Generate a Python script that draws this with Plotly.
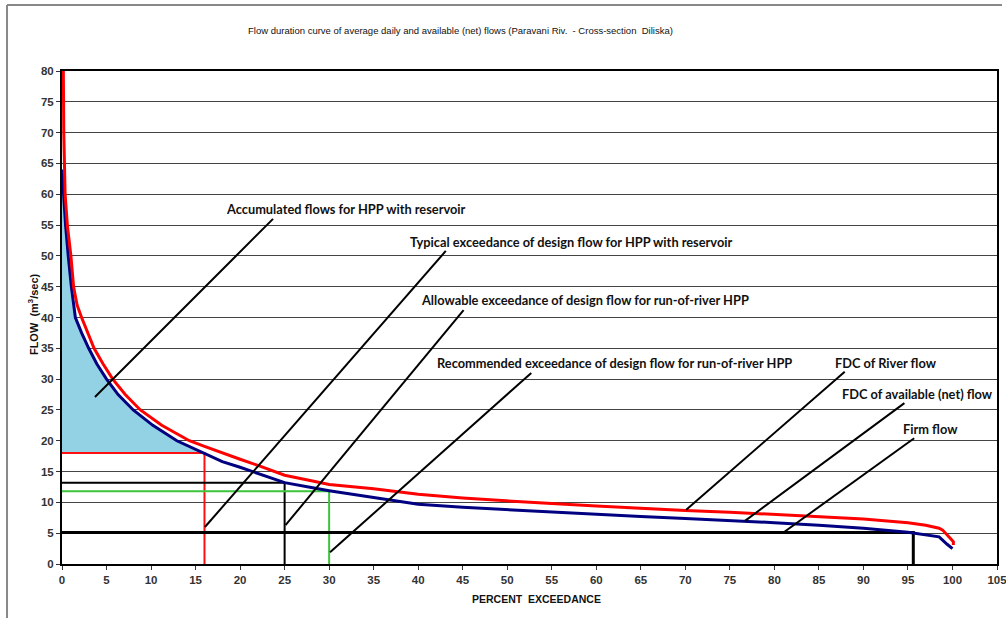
import plotly.graph_objects as go

# ---------------- data ----------------
river_x = [0.0, 0.15, 0.2, 0.3, 0.35, 0.6, 1.0, 1.3, 1.7, 2.2, 2.9, 3.6, 4.6, 5.7, 7.1, 8.8, 11.2, 14.3,
           16.0, 18.0, 20.0, 22.0, 25.0, 28.0, 30.0, 35.0, 40.0, 45.0, 50.0, 55.0, 60.0, 65.0, 70.0,
           75.0, 80.0, 85.0, 90.0, 95.0, 97.0, 98.5, 98.9, 99.85, 100.1, 100.1]
river_y = [85.0, 80.0, 70.0, 62.0, 60.0, 55.0, 50.0, 45.0, 42.0, 40.0, 37.5, 35.0, 32.5, 30.0, 27.5, 25.0, 22.5, 20.0,
           19.1, 18.0, 17.0, 16.0, 14.4, 13.5, 12.9, 12.2, 11.3, 10.7, 10.2, 9.8, 9.4, 9.0, 8.7,
           8.4, 8.05, 7.7, 7.3, 6.7, 6.3, 5.8, 5.5, 4.0, 3.6, 3.1]

net_x = [0.0, 0.15, 0.4, 0.7, 1.05, 1.5, 2.2, 3.0, 3.9, 5.0, 6.3, 8.0, 10.2, 12.9, 16.0, 18.0, 20.0,
         22.0, 25.0, 28.0, 30.0, 35.0, 40.0, 45.0, 50.0, 55.0, 60.0, 65.0, 70.0, 75.0, 80.0, 85.0,
         90.0, 95.0, 97.0, 98.5, 99.4, 100.0]
net_y = [64.0, 60.0, 55.0, 50.0, 45.0, 40.0, 37.5, 35.0, 32.5, 30.0, 27.5, 25.0, 22.5, 20.0, 18.0, 16.6, 15.7,
         14.7, 13.2, 12.4, 11.9, 10.8, 9.7, 9.2, 8.8, 8.4, 8.05, 7.7, 7.4, 7.1, 6.7, 6.3,
         5.8, 5.15, 4.7, 4.4, 3.2, 2.5]

# design flows: (exceedance %, flow m3/s)
reservoir_design = (16.0, 18.0)
allowable_design = (25.0, 13.2)
recommended_design = (30.0, 11.8)
firm_flow = (95.6, 5.1)

x_ticks = list(range(0, 106, 5))
y_ticks = list(range(0, 81, 5))

labels = [
    "Accumulated flows for HPP with reservoir",
    "Typical exceedance of design flow for HPP with reservoir",
    "Allowable exceedance of design flow for run-of-river HPP",
    "Recommended exceedance of design flow for run-of-river HPP",
    "FDC of River flow",
    "FDC of available (net) flow",
    "Firm flow",
]
# label left anchor (x, y) and leader line start/end in data units
label_pos = [(18.2, 57.6), (38.8, 52.25), (40.1, 42.84), (41.9, 32.62), (86.6, 32.62), (87.4, 27.59), (94.2, 21.91)]
leader_start = [(23.7, 56.0), (43.1, 50.8), (45.1, 41.2), (52.7, 31.0), (87.9, 31.2), (94.6, 26.1), (95.7, 20.4)]
leader_end = [(3.7, 27.1), (16.05, 6.0), (25.1, 6.3), (30.1, 1.9), (70.1, 8.8), (76.7, 7.0), (81.1, 5.2)]

# ---------------- figure ----------------
fig = go.Figure()

# accumulated (storage) area above reservoir design flow, under net FDC
rx, ry = reservoir_design
fill_x = [0.0] + [x for x in net_x if x <= rx] + [rx, 0.0]
fill_y = [ry] + [y for x, y in zip(net_x, net_y) if x <= rx] + [ry, ry]
fig.add_trace(go.Scatter(x=fill_x, y=fill_y, mode="lines", fill="toself",
                         fillcolor="#93D2E5", line=dict(width=0), hoverinfo="skip", showlegend=False))

def add_design(pt, color, width):
    fig.add_trace(go.Scatter(x=[0, pt[0], pt[0]], y=[pt[1], pt[1], 0], mode="lines",
                             line=dict(color=color, width=width), showlegend=False))

add_design(reservoir_design, "#FF1010", 2)
add_design(allowable_design, "#000000", 2)
add_design(recommended_design, "#3CC43C", 2)
add_design(firm_flow, "#000000", 3)

fig.add_trace(go.Scatter(x=net_x, y=net_y, mode="lines", line=dict(color="#000080", width=3),
                         showlegend=False, name="FDC of available (net) flow"))
fig.add_trace(go.Scatter(x=river_x, y=river_y, mode="lines", line=dict(color="#FF0000", width=3),
                         showlegend=False, name="FDC of River flow"))

for (x0, y0), (x1, y1) in zip(leader_start, leader_end):
    fig.add_shape(type="line", xref="x", yref="y", x0=x0, y0=y0, x1=x1, y1=y1,
                  line=dict(color="black", width=2))

for txt, (x, y) in zip(labels, label_pos):
    fig.add_annotation(x=x, y=y, xref="x", yref="y", text=txt, showarrow=False,
                       xanchor="left", yanchor="middle",
                       font=dict(family="Lato, Open Sans, sans-serif", size=12.8, color="#111111", weight="bold"))

sans = "Liberation Sans, Arial, sans-serif"

fig.add_annotation(x=0.4267, y=1.083, xref="paper", yref="paper", showarrow=False,
                   xanchor="center", yanchor="middle",
                   text="Flow duration curve of average daily and available (net) flows (Paravani Riv.  - Cross-section  Diliska)",
                   font=dict(family=sans, size=9.5, color="#111111"))
fig.add_annotation(x=-0.031, y=0.507, xref="paper", yref="paper", showarrow=False, textangle=-90,
                   xanchor="center", yanchor="middle",
                   text="FLOW  (m<sup>3</sup>/sec)",
                   font=dict(family=sans, size=11, color="#111111", weight="bold"))
fig.add_annotation(x=0.507, y=-0.071, xref="paper", yref="paper", showarrow=False,
                   xanchor="center", yanchor="middle",
                   text="PERCENT  EXCEEDANCE",
                   font=dict(family=sans, size=10.5, color="#111111", weight="bold"))

# outer frame lines (chart area border)
fig.add_shape(type="line", xref="paper", yref="paper", x0=-0.0588, x1=1.0053, y0=1.1339, y1=1.1339,
              line=dict(color="#888888", width=2))
fig.add_shape(type="line", xref="paper", yref="paper", x0=-0.0588, x1=-0.0588, y0=1.1339, y1=-0.12,
              line=dict(color="#888888", width=2))

tickfont = dict(family=sans, size=11.5, color="#333333", weight="bold")
fig.update_xaxes(range=[0, 105], tickmode="array", tickvals=x_ticks, showgrid=False, zeroline=False,
                 showline=True, linecolor="black", linewidth=2, mirror=True, automargin=False,
                 ticklabeloverflow="allow",
                 ticks="outside", ticklen=4, tickcolor="#333", tickfont=tickfont)
fig.update_yaxes(range=[0, 80], tickmode="array", tickvals=y_ticks, showgrid=True, gridcolor="#444444",
                 gridwidth=1, zeroline=False, showline=True, linecolor="black", linewidth=2, mirror=True,
                 automargin=False, ticklabeloverflow="allow",
                 ticks="outside", ticklen=4, tickcolor="#333", tickfont=tickfont)

fig.update_layout(width=1006, height=618, margin=dict(l=62, r=9, t=71, b=54),
                  paper_bgcolor="white", plot_bgcolor="white", showlegend=False)

fig.write_html("out.html", config={"displayModeBar": False},
               post_script="document.body.style.margin='0';")
